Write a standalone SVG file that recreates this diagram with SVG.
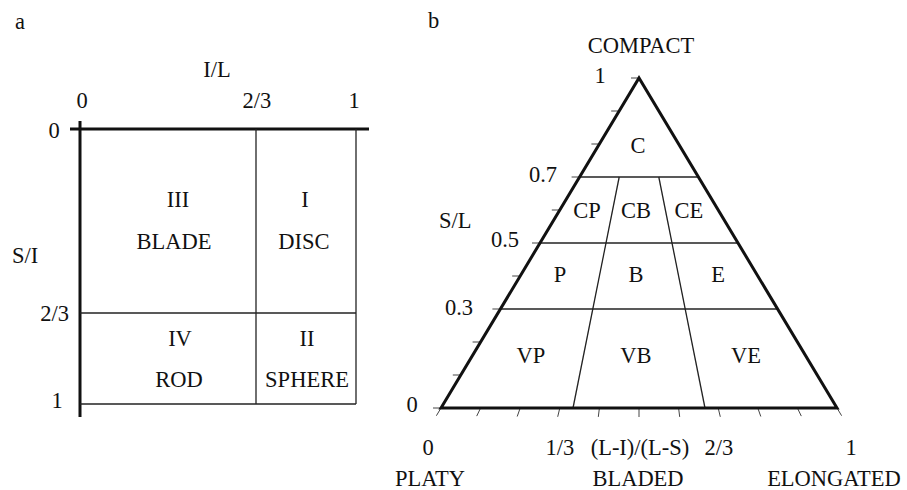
<svg xmlns="http://www.w3.org/2000/svg" width="907" height="490" viewBox="0 0 907 490" font-family="'Liberation Serif', 'Times New Roman', serif">
  <style>
    text { font-family: "Liberation Serif", "Times New Roman", serif; font-size: 22.5px; fill: #111; }
    .c { text-anchor: middle; }
    .r { text-anchor: end; }
    .axis { stroke: #111; stroke-width: 3; fill: none; stroke-linejoin: miter; }
    .div { stroke: #222; stroke-width: 1.3; fill: none; }
    .tick { stroke: #444; stroke-width: 1; fill: none; }
  </style>
  <rect width="907" height="490" fill="#fff"/>

  <!-- Panel a: I/L versus S/I classification -->
  <g id="panel-a">
    <text x="15" y="29">a</text>
    <text class="c" x="217" y="77">I/L</text>
    <text class="c" x="82" y="108">0</text>
    <text class="c" x="257" y="108">2/3</text>
    <text class="c" x="354" y="108">1</text>
    <text class="c" x="54" y="138">0</text>
    <text x="12" y="263">S/I</text>
    <text class="r" x="69" y="321">2/3</text>
    <text class="c" x="57" y="408">1</text>

    <g id="connectors-a">
      <line class="axis" x1="70" y1="129" x2="369" y2="129"/>
      <line class="axis" x1="80" y1="121" x2="80" y2="417"/>
      <line class="div" x1="256" y1="129" x2="256" y2="404"/>
      <line class="div" x1="356" y1="129" x2="356" y2="404"/>
      <line class="div" x1="80" y1="313" x2="356" y2="313"/>
      <line class="div" x1="80" y1="404" x2="356" y2="404"/>
    </g>

    <g id="blade"><text class="c" x="178" y="207">III</text><text class="c" x="174" y="249">BLADE</text></g>
    <g id="disc"><text class="c" x="305" y="207">I</text><text class="c" x="304" y="249">DISC</text></g>
    <g id="rod"><text class="c" x="180" y="346">IV</text><text class="c" x="179" y="387">ROD</text></g>
    <g id="sphere"><text class="c" x="307" y="346">II</text><text class="c" x="307" y="387">SPHERE</text></g>
  </g>

  <!-- Panel b: ternary shape diagram -->
  <g id="panel-b">
    <text x="428" y="28">b</text>
    <text class="c" x="641" y="53">COMPACT</text>
    <text class="c" x="600" y="83">1</text>
    <text class="r" x="557" y="182">0.7</text>
    <text x="439" y="228">S/L</text>
    <text class="r" x="519" y="247">0.5</text>
    <text class="r" x="473" y="315">0.3</text>
    <text class="c" x="412" y="412">0</text>

    <text class="c" x="428" y="455">0</text>
    <text class="c" x="560" y="455">1/3</text>
    <text class="c" x="640" y="455">(L-I)/(L-S)</text>
    <text class="c" x="719" y="455">2/3</text>
    <text class="c" x="851" y="455">1</text>
    <text class="c" x="430" y="486">PLATY</text>
    <text class="c" x="638" y="486">BLADED</text>
    <text class="c" x="834" y="486">ELONGATED</text>

    <g id="connectors-b">
      <!-- S/L ticks on the left edge -->
      <path class="tick" d="M631 78H639 M611.2 111H619.2 M591.4 144H599.4 M571.6 177H579.6 M551.8 210H559.8 M532 243H540 M512.2 276H520.2 M492.4 309H500.4 M472.6 342H480.6 M452.8 375H460.8 M433 408H441"/>
      <!-- (L-I)/(L-S) ticks radiating from the apex -->
      <path class="tick" d="M441 408L436.4 415.7 M480.6 408L476.7 416.1 M520.2 408L517.2 416.5 M559.8 408L557.7 416.8 M599.4 408L598.3 416.9 M639 408L639 417 M678.6 408L679.7 416.9 M718.2 408L720.3 416.8 M757.8 408L760.8 416.5 M797.4 408L801.3 416.1 M837 408L841.6 415.7"/>
      <!-- class boundaries -->
      <line class="div" x1="579.6" y1="177" x2="698.4" y2="177"/>
      <line class="div" x1="540" y1="243" x2="738" y2="243"/>
      <line class="div" x1="500.4" y1="309" x2="777.6" y2="309"/>
      <line class="div" x1="573" y1="408" x2="619.2" y2="177"/>
      <line class="div" x1="705" y1="408" x2="658.8" y2="177"/>
      <!-- outline -->
      <polygon class="axis" points="441,408 837,408 639,78"/>
    </g>

    <g id="c"><text class="c" x="638" y="153">C</text></g>
    <g id="cp"><text class="c" x="587" y="218">CP</text></g>
    <g id="cb"><text class="c" x="636" y="218">CB</text></g>
    <g id="ce"><text class="c" x="689" y="218">CE</text></g>
    <g id="p"><text class="c" x="560" y="282">P</text></g>
    <g id="b"><text class="c" x="636" y="282">B</text></g>
    <g id="e"><text class="c" x="718" y="282">E</text></g>
    <g id="vp"><text class="c" x="531" y="363">VP</text></g>
    <g id="vb"><text class="c" x="636" y="363">VB</text></g>
    <g id="ve"><text class="c" x="746" y="363">VE</text></g>
  </g>
</svg>
